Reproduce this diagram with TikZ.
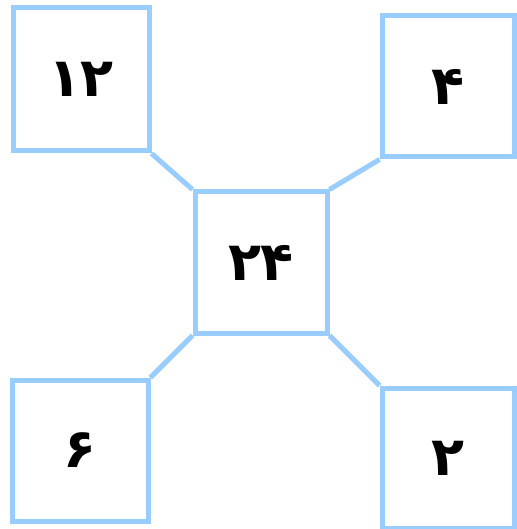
\documentclass[tikz,border=0pt]{standalone}
\usepackage{fontspec}
\newfontfamily\farsifont[Script=Arabic]{DejaVu Sans}
\definecolor{boxblue}{HTML}{99CCFF}

\begin{document}
\begin{tikzpicture}[x=1pt,y=-1pt]
\tikzstyle{every path}=[line width=5pt,boxblue]
\tikzstyle{every node}=[rectangle,draw=boxblue,line width=5pt,text=black,font=\farsifont\bfseries\fontsize{54}{60}\selectfont]
\tikzstyle{numbox}=[minimum width=134pt,minimum height=141pt,inner sep=0pt]

\useasboundingbox (0,0) rectangle (516,529);

\node (topleft) at (81,79.5) [numbox,minimum width=136pt,minimum height=143pt] {۱۲};
\node (topright) at (448,86.5) [numbox,minimum width=132pt] {۴};
\node (mid) at (261,262.5) [numbox,minimum width=132pt] {۲۴};
\node (botleft) at (80,450.5) [numbox,minimum width=136pt] {۶};
\node (botright) at (448,458) [numbox,minimum width=132pt,minimum height=140pt] {۲};

\draw (mid.north west)--(topleft.south east);
\draw (mid.north east)--(topright.south west);
\draw (mid.south west)--(botleft.north east);
\draw (mid.south east)--(botright.north west);

\end{tikzpicture}
\end{document}
